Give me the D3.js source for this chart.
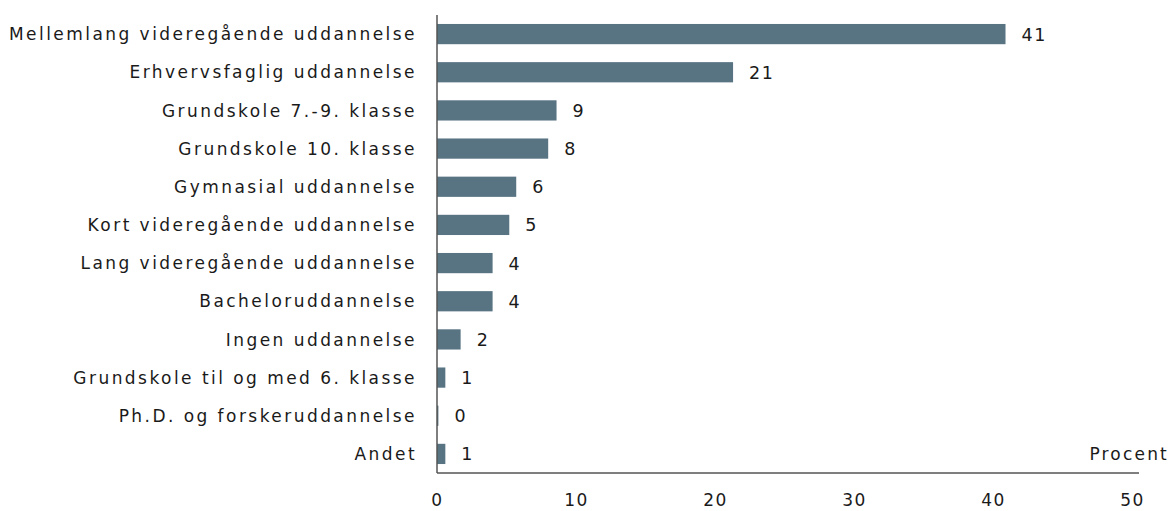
<!DOCTYPE html>
<html lang="da">
<head>
    <meta charset="UTF-8">
    <title>Uddannelse</title>
    <script src="https://d3js.org/d3.v7.min.js"></script>
    <style>
        body { margin: 0; background: #fff; }
        text { font-family: "DejaVu Sans", Verdana, sans-serif; fill: #1a1a1a; }
    </style>
</head>
<body>
    <div id="chart"></div>
    <script>
        // data
        const categories = [
            "Mellemlang videregående uddannelse",
            "Erhvervsfaglig uddannelse",
            "Grundskole 7.-9. klasse",
            "Grundskole 10. klasse",
            "Gymnasial uddannelse",
            "Kort videregående uddannelse",
            "Lang videregående uddannelse",
            "Bacheloruddannelse",
            "Ingen uddannelse",
            "Grundskole til og med 6. klasse",
            "Ph.D. og forskeruddannelse",
            "Andet"
        ];
        const values = [40.9, 21.3, 8.6, 8.0, 5.7, 5.2, 4.0, 4.0, 1.7, 0.6, 0.1, 0.6];
        const xTicks = [0, 10, 20, 30, 40, 50];
        const unitLabel = "Procent";

        const width = 1170, height = 511;
        const plotLeft = 437, plotRight = 1132, plotTop = 15, plotBottom = 473;
        const fontSize = "17px", spacing = "2.45px";

        const svg = d3.select("#chart").append("svg")
            .attr("width", width)
            .attr("height", height);

        const x = d3.scaleLinear().domain([0, 50]).range([plotLeft, plotRight]);
        const y = d3.scaleBand().domain(categories).range([plotTop, plotBottom])
            .paddingInner(0.47).paddingOuter(0.235);

        // bars
        svg.selectAll("rect.bar")
            .data(categories)
            .enter()
            .append("rect")
            .attr("class", "bar")
            .attr("x", x(0))
            .attr("y", d => y(d))
            .attr("width", (d, i) => x(values[i]) - x(0))
            .attr("height", y.bandwidth())
            .attr("fill", "#587483");

        // value labels
        svg.selectAll("text.val")
            .data(categories)
            .enter()
            .append("text")
            .attr("class", "val")
            .attr("x", (d, i) => x(values[i]) + 16)
            .attr("y", d => y(d) + y.bandwidth() / 2)
            .attr("dy", "0.37em")
            .style("font-size", "17.5px")
            .style("letter-spacing", "1.5px")
            .style("font-weight", "500")
            .text((d, i) => Math.round(values[i]));

        // category labels
        const yAxis = svg.append("g")
            .attr("transform", `translate(${plotLeft - 20},0)`)
            .call(d3.axisLeft(y).tickSize(0).tickPadding(0));
        yAxis.select(".domain").remove();
        yAxis.selectAll("text")
            .style("font-size", fontSize)
            .style("letter-spacing", spacing)
            .attr("dy", "0.36em")
            .attr("fill", "#1a1a1a");

        // x axis
        const xAxis = svg.append("g")
            .attr("transform", `translate(0,${plotBottom})`)
            .call(d3.axisBottom(x).tickValues(xTicks).tickSize(0).tickPadding(21));
        xAxis.select(".domain").remove();
        xAxis.selectAll("text")
            .style("font-size", fontSize)
            .style("letter-spacing", "1.5px")
            .attr("fill", "#1a1a1a");

        // axis lines
        svg.append("line")
            .attr("x1", plotLeft).attr("x2", plotLeft)
            .attr("y1", plotTop).attr("y2", plotBottom)
            .attr("stroke", "#555").attr("stroke-width", 1.5);
        svg.append("line")
            .attr("x1", plotLeft).attr("x2", x(50) + 7)
            .attr("y1", plotBottom).attr("y2", plotBottom)
            .attr("stroke", "#555").attr("stroke-width", 1.5);

        svg.append("text")
            .attr("x", 1169)
            .attr("y", 460)
            .attr("text-anchor", "end")
            .style("font-size", fontSize)
            .style("letter-spacing", "2.2px")
            .text(unitLabel);
    </script>
</body>
</html>
